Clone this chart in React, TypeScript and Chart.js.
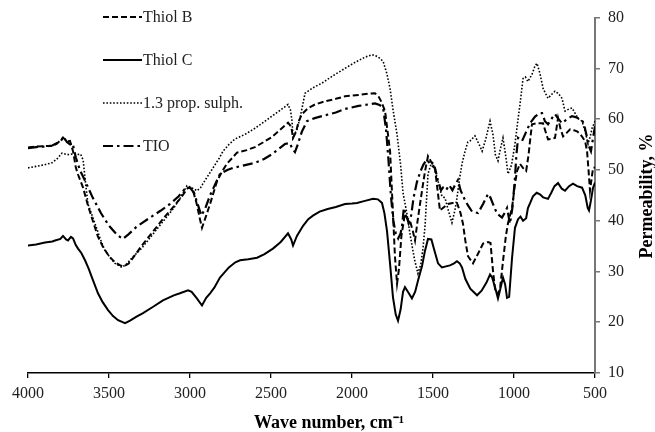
import React, { useEffect, useRef } from "react";
import { Chart, registerables } from "chart.js";

Chart.register(...registerables);

const FONT = "'Liberation Serif', 'Times New Roman', serif";

const xTicks = [4000, 3500, 3000, 2500, 2000, 1500, 1000, 500];
const yTicks = [10, 20, 30, 40, 50, 60, 70, 80];
const legendLabels = ["Thiol B", "Thiol C", "1.3 prop. sulph.", "TIO"];
const xTitle = "Wave number, cm⁻¹";
const yTitle = "Permeability, %";

// Thiol B (dashed)
const thiolBWave = [4000, 3950, 3900, 3852, 3820, 3800, 3784, 3760, 3741, 3722, 3705, 3690, 3660, 3630, 3600, 3570, 3540, 3500, 3463, 3430, 3410, 3380, 3340, 3300, 3250, 3200, 3150, 3100, 3050, 3012, 2985, 2960, 2940, 2926, 2900, 2876, 2833, 2800, 2772, 2710, 2650, 2599, 2550, 2494, 2440, 2395, 2375, 2364, 2345, 2330, 2309, 2270, 2228, 2167, 2100, 2043, 1950, 1900, 1858, 1835, 1820, 1796, 1780, 1765, 1747, 1735, 1722, 1710, 1695, 1673, 1660, 1642, 1625, 1611, 1595, 1580, 1565, 1549, 1531, 1510, 1488, 1470, 1457, 1435, 1407, 1380, 1352, 1330, 1315, 1300, 1284, 1253, 1222, 1191, 1160, 1145, 1130, 1117, 1100, 1085, 1068, 1050, 1037, 1025, 1012, 995, 981, 963, 945, 925, 910, 901, 889, 858, 821, 805, 790, 747, 728, 712, 697, 675, 654, 630, 611, 590, 574, 560, 549, 540, 531, 520, 512, 500];
const thiolBValue = [54.4, 54.6, 54.7, 54.7, 55.2, 55.8, 56.4, 55.6, 55.7, 53.7, 50.5, 49.0, 46.5, 43.0, 40.0, 37.0, 35.0, 33.0, 31.8, 31.2, 31.0, 31.5, 33.2, 35.0, 37.0, 39.0, 41.0, 42.8, 44.8, 46.5, 46.3, 43.5, 40.5, 38.6, 41.0, 43.3, 47.8, 49.8, 51.2, 53.4, 53.9, 54.5, 55.4, 56.5, 58.0, 59.3, 58.5, 56.3, 57.5, 59.5, 61.0, 62.2, 62.9, 63.5, 64.0, 64.5, 64.8, 65.0, 65.1, 64.4, 63.5, 61.6, 57.5, 53.7, 41.4, 33.0, 27.6, 30.5, 37.0, 41.4, 40.5, 40.0, 38.0, 36.1, 40.0, 43.3, 46.5, 49.8, 52.7, 51.5, 50.4, 45.5, 42.0, 42.6, 43.3, 43.5, 43.5, 41.5, 39.4, 36.0, 33.0, 31.6, 33.5, 35.5, 35.8, 35.6, 30.2, 26.5, 25.5, 27.0, 32.0, 37.0, 39.5, 41.0, 42.5, 47.0, 49.8, 51.2, 50.4, 49.8, 53.0, 55.7, 59.0, 59.2, 59.2, 57.5, 56.0, 56.3, 60.2, 58.0, 56.6, 57.3, 58.0, 57.8, 57.6, 57.0, 56.3, 55.5, 53.7, 50.0, 45.9, 48.5, 50.4, 50.5];

// Thiol C (solid)
const thiolCWave = [4000, 3950, 3895, 3850, 3833, 3800, 3784, 3765, 3753, 3735, 3722, 3705, 3691, 3670, 3648, 3625, 3605, 3568, 3540, 3506, 3475, 3444, 3401, 3370, 3330, 3290, 3230, 3167, 3100, 3062, 3012, 2990, 2960, 2926, 2900, 2876, 2850, 2815, 2760, 2720, 2691, 2640, 2586, 2540, 2488, 2440, 2395, 2375, 2364, 2340, 2302, 2270, 2241, 2200, 2150, 2100, 2043, 2000, 1969, 1920, 1870, 1840, 1815, 1800, 1784, 1765, 1747, 1730, 1716, 1700, 1685, 1673, 1655, 1630, 1610, 1590, 1568, 1550, 1531, 1510, 1490, 1469, 1445, 1420, 1395, 1370, 1352, 1335, 1321, 1300, 1270, 1241, 1228, 1200, 1170, 1148, 1135, 1117, 1099, 1085, 1068, 1055, 1043, 1030, 1012, 994, 975, 960, 944, 925, 914, 900, 883, 860, 840, 820, 790, 770, 750, 728, 705, 685, 660, 636, 610, 580, 560, 545, 537, 525, 512, 500];
const thiolCValue = [35.1, 35.3, 35.7, 35.9, 36.1, 36.4, 37.0, 36.3, 36.1, 36.8, 36.5, 35.2, 34.5, 33.6, 32.2, 30.5, 28.8, 25.7, 24.0, 22.4, 21.2, 20.4, 19.8, 20.3, 21.1, 21.8, 23.0, 24.3, 25.3, 25.7, 26.3, 26.0, 24.8, 23.3, 24.8, 25.7, 26.8, 28.8, 30.8, 31.8, 32.2, 32.4, 32.7, 33.4, 34.5, 35.8, 37.5, 36.3, 35.1, 37.0, 39.0, 40.3, 41.0, 41.8, 42.3, 42.7, 43.3, 43.4, 43.5, 43.9, 44.3, 44.2, 43.5, 41.5, 38.0, 31.5, 24.9, 21.5, 20.3, 22.5, 26.0, 26.9, 26.0, 24.7, 26.0, 28.5, 31.0, 34.0, 36.4, 36.3, 34.0, 31.6, 30.8, 31.0, 31.2, 31.6, 32.0, 31.6, 30.8, 28.5, 26.6, 25.7, 25.3, 26.2, 27.8, 29.4, 28.8, 26.9, 24.7, 26.5, 28.8, 27.5, 24.8, 25.0, 32.7, 38.6, 40.3, 40.8, 40.0, 40.5, 42.5, 43.5, 44.8, 45.5, 45.2, 44.6, 44.3, 45.5, 46.8, 47.4, 46.3, 45.9, 46.8, 47.3, 46.8, 46.5, 45.0, 42.5, 42.0, 44.0, 46.5, 47.5];

// 1.3 prop. sulph. (dotted)
const propWave = [4000, 3950, 3900, 3852, 3820, 3790, 3760, 3728, 3700, 3675, 3660, 3645, 3630, 3586, 3555, 3525, 3490, 3463, 3420, 3390, 3358, 3300, 3250, 3200, 3150, 3100, 3060, 3019, 2990, 2957, 2935, 2920, 2890, 2858, 2820, 2796, 2760, 2722, 2660, 2599, 2550, 2494, 2450, 2395, 2380, 2370, 2364, 2340, 2321, 2300, 2290, 2240, 2185, 2120, 2043, 1980, 1920, 1876, 1840, 1808, 1785, 1765, 1745, 1722, 1700, 1685, 1661, 1640, 1615, 1593, 1575, 1562, 1549, 1531, 1506, 1488, 1469, 1445, 1426, 1405, 1383, 1365, 1352, 1335, 1321, 1302, 1285, 1272, 1241, 1215, 1197, 1175, 1148, 1130, 1115, 1099, 1085, 1068, 1050, 1037, 1015, 994, 975, 963, 944, 930, 914, 900, 889, 870, 858, 840, 820, 790, 770, 747, 725, 704, 685, 660, 642, 620, 600, 580, 560, 543, 530, 518, 500];
const propValue = [50.4, 50.7, 51.0, 51.4, 52.2, 53.3, 53.0, 53.1, 53.0, 53.1, 52.0, 47.5, 43.3, 39.4, 36.5, 34.1, 32.6, 31.6, 30.8, 31.5, 32.7, 34.5, 36.5, 38.5, 40.5, 42.5, 44.5, 46.9, 46.5, 45.9, 46.5, 47.3, 48.8, 50.4, 52.3, 53.7, 55.0, 56.1, 57.0, 58.2, 59.3, 60.6, 61.6, 62.9, 61.8, 59.6, 56.3, 58.0, 60.2, 63.5, 65.1, 66.2, 67.1, 68.5, 70.0, 71.2, 72.2, 72.7, 72.3, 71.4, 69.0, 66.0, 61.5, 57.0, 51.0, 45.5, 41.4, 37.0, 32.5, 29.6, 31.5, 34.5, 39.0, 49.2, 51.8, 50.0, 47.8, 44.8, 44.5, 42.0, 39.6, 42.0, 44.5, 48.5, 51.2, 53.7, 55.5, 55.7, 56.7, 55.0, 53.7, 56.0, 59.6, 57.0, 53.0, 51.8, 54.0, 56.3, 52.5, 49.2, 51.0, 55.1, 60.0, 62.9, 68.0, 68.3, 67.4, 68.2, 68.8, 70.5, 71.0, 69.0, 66.0, 64.1, 64.8, 65.5, 65.0, 64.1, 61.6, 62.0, 62.2, 61.0, 60.0, 59.6, 57.5, 55.1, 56.5, 58.2, 59.6];

// TIO (dash-dot)
const tioWave = [4000, 3950, 3900, 3850, 3800, 3780, 3760, 3740, 3725, 3705, 3680, 3650, 3600, 3550, 3500, 3450, 3414, 3380, 3330, 3247, 3180, 3123, 3070, 3031, 3000, 2975, 2950, 2930, 2905, 2876, 2850, 2815, 2770, 2735, 2680, 2599, 2540, 2494, 2450, 2414, 2385, 2365, 2352, 2335, 2310, 2278, 2230, 2185, 2100, 2043, 1960, 1900, 1858, 1830, 1808, 1790, 1775, 1760, 1745, 1730, 1715, 1700, 1691, 1680, 1665, 1650, 1635, 1620, 1600, 1580, 1560, 1540, 1525, 1505, 1488, 1470, 1450, 1438, 1420, 1400, 1380, 1360, 1346, 1330, 1302, 1284, 1259, 1222, 1191, 1160, 1145, 1130, 1105, 1074, 1058, 1043, 1025, 1010, 995, 985, 975, 960, 950, 925, 901, 870, 840, 827, 809, 790, 770, 747, 725, 704, 680, 642, 620, 593, 575, 562, 550, 543, 525, 512, 500];
const tioValue = [54.3, 54.5, 54.6, 54.8, 55.6, 56.5, 55.5, 55.0, 55.3, 52.5, 50.0, 48.0, 44.5, 41.5, 39.0, 37.2, 36.4, 37.3, 38.8, 40.6, 42.0, 43.3, 44.8, 46.3, 46.5, 45.5, 43.0, 41.0, 42.5, 45.0, 46.8, 49.2, 50.0, 50.4, 50.8, 51.4, 52.2, 53.1, 54.2, 55.1, 55.3, 54.0, 53.5, 55.0, 57.5, 59.6, 60.2, 60.6, 61.3, 62.0, 62.6, 62.9, 63.1, 62.8, 62.2, 58.0, 52.0, 45.0, 40.0, 37.5, 36.5, 37.5, 39.0, 42.5, 41.0, 39.5, 41.0, 44.5, 47.5, 49.5, 51.0, 52.0, 51.5, 50.8, 50.4, 48.0, 46.0, 46.5, 46.0, 47.0, 46.0, 47.3, 48.0, 46.0, 44.0, 43.0, 41.8, 41.5, 43.3, 45.3, 44.5, 43.3, 41.4, 40.6, 41.5, 42.5, 39.4, 42.5, 48.0, 53.0, 56.3, 56.0, 55.7, 57.5, 59.2, 60.5, 61.2, 61.2, 59.6, 59.0, 60.0, 61.0, 60.0, 59.2, 59.8, 60.6, 60.4, 60.0, 59.5, 58.2, 56.5, 55.1, 53.7, 56.3, 58.6];

function pairs(w: number[], v: number[]) {
  return w.map((x, i) => ({ x, y: v[i] }));
}

const legendPlugin = {
  id: "customLegend",
  afterDraw(chart: any) {
    const ctx = chart.ctx;
    ctx.save();
    chart.data.datasets.forEach((ds: any, i: number) => {
      const y = 17 + i * 43;
      ctx.beginPath();
      ctx.setLineDash(ds.borderDash || []);
      ctx.lineWidth = ds.borderWidth;
      ctx.strokeStyle = ds.borderColor;
      ctx.moveTo(103, y);
      ctx.lineTo(142, y);
      ctx.stroke();
      ctx.setLineDash([]);
      ctx.fillStyle = "#222";
      ctx.font = `16px ${FONT}`;
      ctx.textAlign = "left";
      ctx.textBaseline = "middle";
      ctx.fillText(legendLabels[i], 143, y + 1);
    });
    ctx.fillStyle = "#000";
    ctx.font = `bold 18px ${FONT}`;
    ctx.textAlign = "center";
    ctx.textBaseline = "alphabetic";
    ctx.fillText(xTitle, 329, 428);
    ctx.translate(652, 196);
    ctx.rotate(-Math.PI / 2);
    ctx.fillText(yTitle, 0, 0);
    ctx.restore();
  },
};

export default function App() {
  const ref = useRef<HTMLCanvasElement>(null);
  useEffect(() => {
    document.body.style.margin = "0";
    const canvas = ref.current!;
    const chart = new Chart(canvas, {
      type: "scatter",
      data: {
        datasets: [
          {
            label: legendLabels[0],
            data: pairs(thiolBWave, thiolBValue),
            borderColor: "#000",
            borderWidth: 2,
            borderDash: [6, 3],
            showLine: true,
            pointRadius: 0,
          },
          {
            label: legendLabels[1],
            data: pairs(thiolCWave, thiolCValue),
            borderColor: "#000",
            borderWidth: 2,
            borderDash: [],
            showLine: true,
            pointRadius: 0,
          },
          {
            label: legendLabels[2],
            data: pairs(propWave, propValue),
            borderColor: "#000",
            borderWidth: 1.6,
            borderDash: [1.6, 1.8],
            showLine: true,
            pointRadius: 0,
          },
          {
            label: legendLabels[3],
            data: pairs(tioWave, tioValue),
            borderColor: "#000",
            borderWidth: 2.2,
            borderDash: [10, 4, 2.5, 4],
            showLine: true,
            pointRadius: 0,
          },
        ] as any,
      },
      options: {
        animation: false,
        responsive: false,
        events: [],
        layout: { padding: { left: 28, top: 16, right: 0, bottom: 0 } },
        plugins: { legend: { display: false }, tooltip: { enabled: false } },
        scales: {
          x: {
            type: "linear",
            reverse: true,
            min: 500,
            max: 4000,
            afterFit: (s: any) => {
              s.height = 59;
            },
            afterBuildTicks: (s: any) => {
              s.ticks = xTicks.map((v) => ({ value: v }));
            },
            ticks: {
              font: { family: FONT, size: 16 },
              color: "#222",
              padding: 6,
              maxRotation: 0,
              autoSkip: false,
              callback: (v: any) => String(v),
            },
            grid: {
              drawOnChartArea: false,
              drawTicks: true,
              tickLength: 5,
              color: "#000",
              lineWidth: 1.3,
            },
            border: { display: true, color: "#000", width: 1.5 },
          },
          y: {
            type: "linear",
            position: "right",
            min: 10,
            max: 80,
            afterFit: (s: any) => {
              s.width = 60;
            },
            afterBuildTicks: (s: any) => {
              s.ticks = yTicks.map((v) => ({ value: v }));
            },
            ticks: {
              font: { family: FONT, size: 16 },
              color: "#222",
              padding: 8,
              autoSkip: false,
              callback: (v: any) => String(v),
            },
            grid: {
              drawOnChartArea: false,
              drawTicks: true,
              tickLength: 5,
              color: "#777",
              lineWidth: 1.5,
            },
            border: { display: true, color: "#777", width: 2 },
          },
        },
      },
      plugins: [legendPlugin],
    });
    return () => chart.destroy();
  }, []);
  return (
    <div style={{ width: 655, height: 432 }}>
      <canvas ref={ref} width={655} height={432} />
    </div>
  );
}
